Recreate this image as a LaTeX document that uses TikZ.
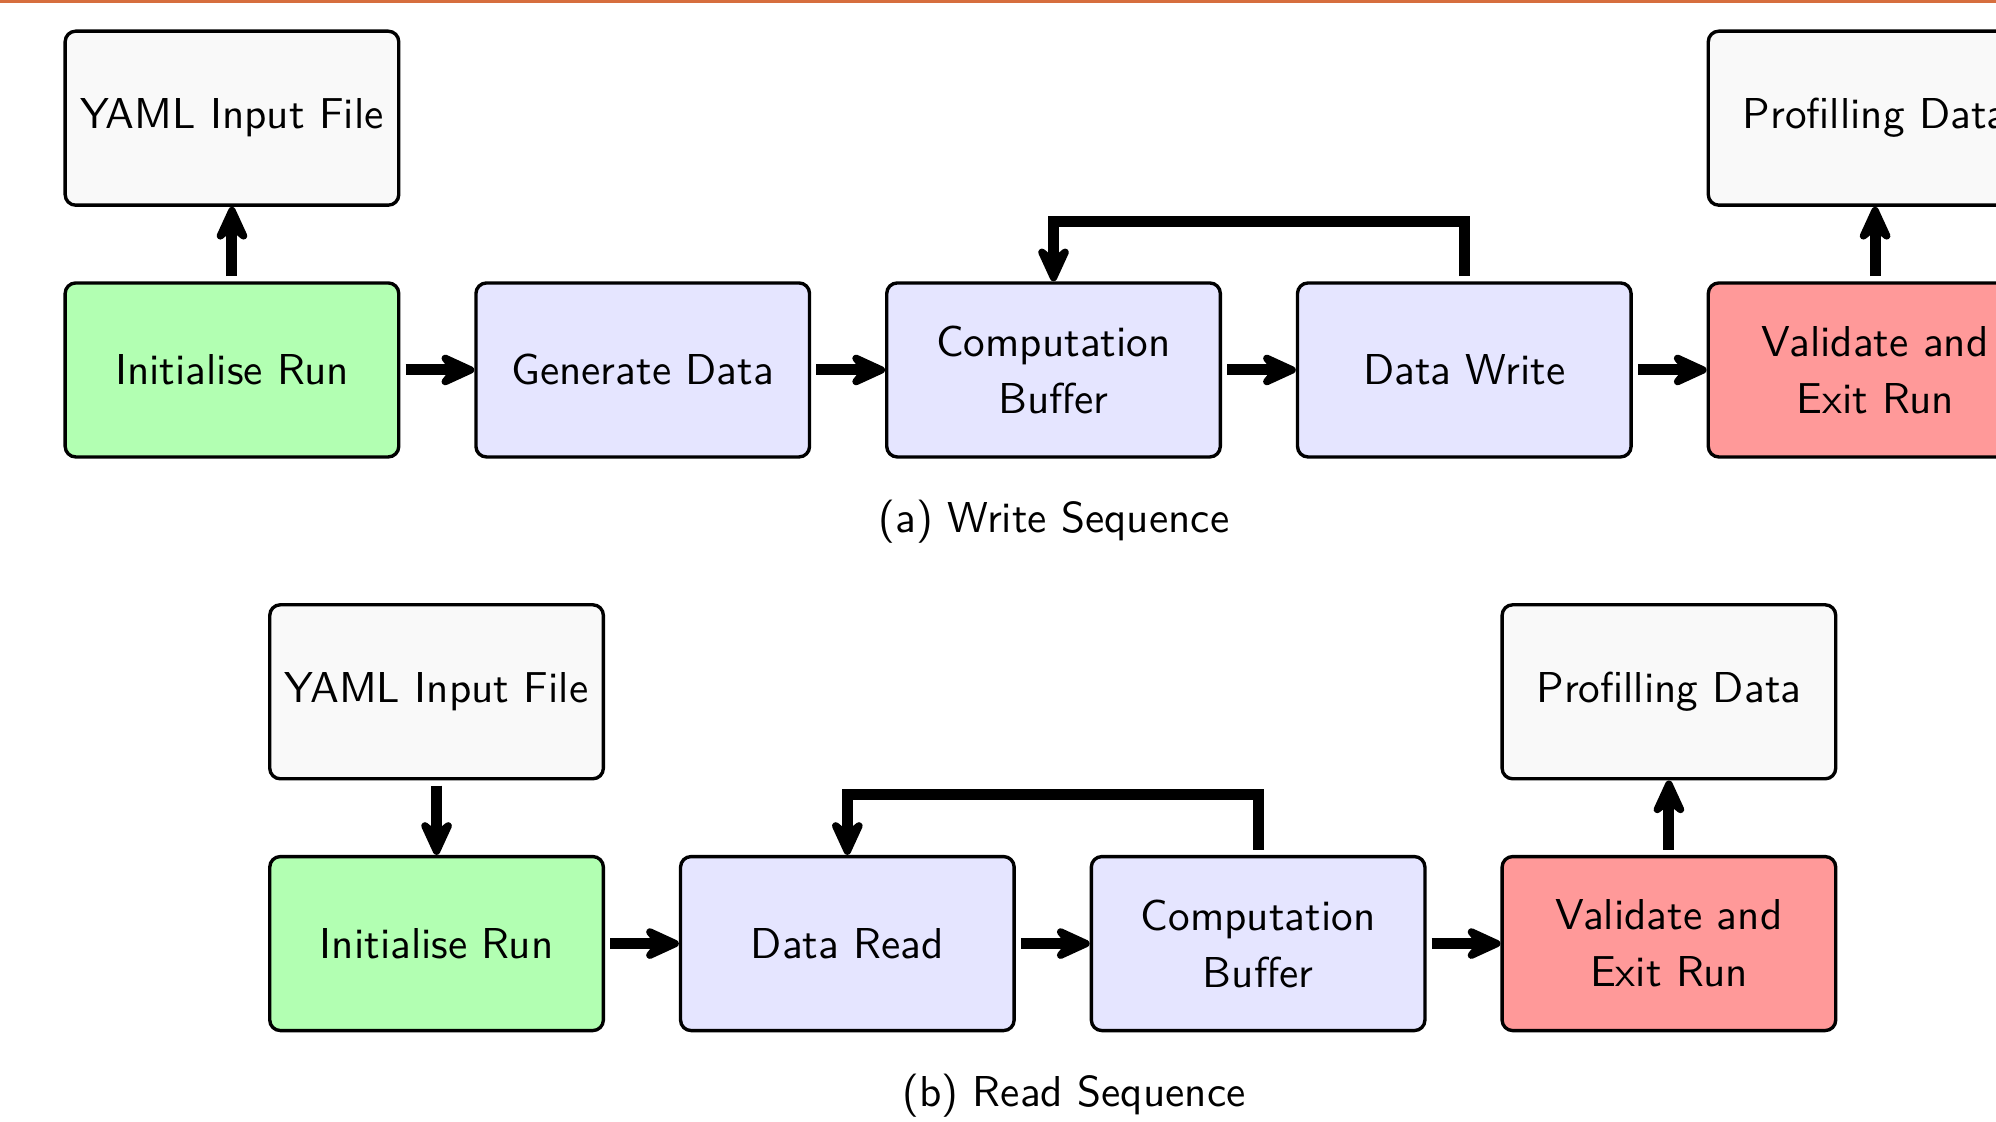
\documentclass[tikz,border=0pt]{standalone}
\usepackage{tikz}
\usetikzlibrary{arrows.meta, positioning, calc}
\definecolor{headerorange}{RGB}{214,110,62}

\begin{document}
\begin{tikzpicture}[
    font=\sffamily\fontsize{10.25}{13.5}\selectfont,
    % Box styles
    stagebox/.style={draw, thick, rounded corners=2.5pt, minimum width=2.78cm, minimum height=1.45cm, align=center},
    filebox/.style={stagebox, fill=gray!5},
    initbox/.style={stagebox, fill=green!30},
    workbox/.style={stagebox, fill=blue!10},
    exitbox/.style={stagebox, fill=red!40},
    % Connector style
    flow/.style={-{Stealth[round, length=11pt, width=10pt, inset=4pt]}, line width=2.6pt, shorten <=1.2pt},
    caption/.style={anchor=base},
    node distance=0.62cm and 0.615cm
]

% Page frame and header rule
\clip (0,0) rectangle (16.633,-9.342);
\fill[headerorange] (0,0) rectangle (16.633,-0.022);

% (a) Write sequence
\node[initbox] (w_init) at (1.933,-3.083) {Initialise Run};
\node[workbox, right=of w_init] (w_gen) {Generate Data};
\node[workbox, right=of w_gen] (w_comp) {Computation\\Buffer};
\node[workbox, right=of w_comp] (w_write) {Data Write};
\node[exitbox, right=of w_write] (w_exit) {Validate and\\Exit Run};
\node[filebox, above=of w_init] (w_yaml) {YAML Input File};
\node[filebox, above=of w_exit] (w_prof) {Profilling Data};
\node[caption] (w_cap) at (8.783,-4.44) {(a) Write Sequence};

% (b) Read sequence
\node[initbox] (r_init) at (3.638,-7.863) {Initialise Run};
\node[workbox, right=of r_init] (r_read) {Data Read};
\node[workbox, right=of r_read] (r_comp) {Computation\\Buffer};
\node[exitbox, right=of r_comp] (r_exit) {Validate and\\Exit Run};
\node[filebox, above=of r_init] (r_yaml) {YAML Input File};
\node[filebox, above=of r_exit] (r_prof) {Profilling Data};
\node[caption] (r_cap) at (8.95,-9.22) {(b) Read Sequence};

% Connections
\foreach \a/\b in {w_init/w_gen, w_gen/w_comp, w_comp/w_write, w_write/w_exit,
                   r_init/r_read, r_read/r_comp, r_comp/r_exit}
    \draw[flow] (\a) -- (\b);

\draw[flow] (w_init) -- (w_yaml);
\draw[flow] (w_exit) -- (w_prof);
\draw[flow] (r_yaml) -- (r_init);
\draw[flow] (r_exit) -- (r_prof);

% Feedback loops
\draw[flow] (w_write.north) -- ++(0,0.5) -| (w_comp.north);
\draw[flow] (r_comp.north) -- ++(0,0.5) -| (r_read.north);

\end{tikzpicture}
\end{document}
